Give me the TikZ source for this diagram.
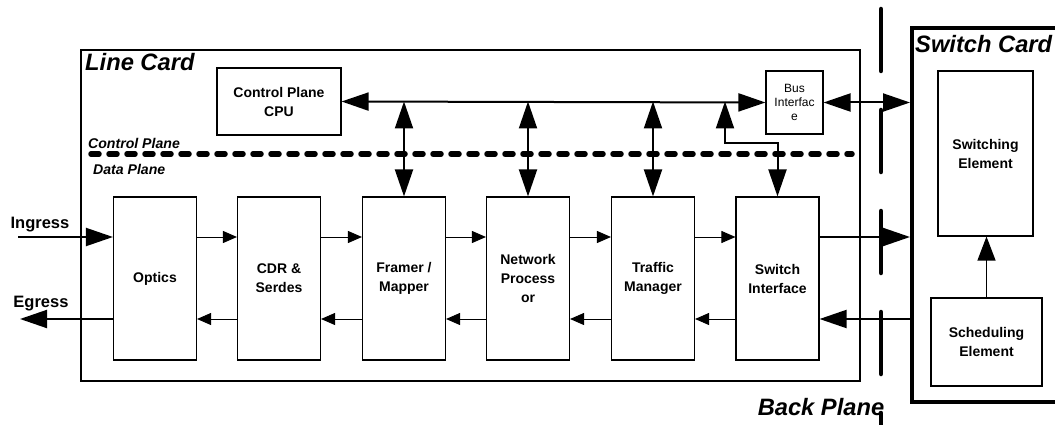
\documentclass[tikz,border=0pt]{standalone}
\usepackage{fontspec}
\setmainfont{Liberation Sans}
\usetikzlibrary{arrows.meta}

\begin{document}
\begin{tikzpicture}[x=1pt,y=-1pt,
  box/.style={draw,line width=1.1pt,inner sep=0pt,align=center,
    font=\fontsize{14}{19}\selectfont\bfseries},
  datablk/.style={box,minimum width=83pt,minimum height=163pt},
  title/.style={font=\fontsize{23.7}{26}\selectfont\bfseries\itshape,inner sep=0pt},
  planelbl/.style={font=\fontsize{14.1}{16}\selectfont\bfseries\itshape,inner sep=0pt},
  iolbl/.style={font=\fontsize{16.5}{19}\selectfont\bfseries,inner sep=0pt},
  bigarrow/.style={line width=2pt,-{Triangle[length=27pt,width=18pt]}},
  bigboth/.style={line width=2pt,{Triangle[length=27pt,width=18pt]}-{Triangle[length=27pt,width=18pt]}},
  smallarrow/.style={line width=0.9pt,-{Triangle[length=14pt,width=12pt]}},
]
\useasboundingbox (0,0) rectangle (1055,425);
\clip (0,0) rectangle (1055,425);

% Line card outline and title
\draw[line width=2pt] (81,50) rectangle (860,381);
\node[title,anchor=west] (lctitle) at (85,62) {Line Card};

% Control-plane blocks
\node[box,minimum width=124pt,minimum height=67pt] (cpu) at (279,101.5) {Control Plane\\CPU};
\node[box,minimum width=57pt,minimum height=63pt,
  font=\fontsize{12}{14}\selectfont] (bi) at (794.5,102.5) {Bus\\Interfac\\e};

% Plane separator
\draw[line width=5.5pt,dash pattern=on 8pt off 10pt,line cap=round] (91,154) -- (852,154);
\node[planelbl,anchor=west] (cplbl) at (88,143) {Control Plane};
\node[planelbl,anchor=west] (dplbl) at (93,169) {Data Plane};

% Data-path blocks
\node[datablk] (opt) at (155,278.5) {Optics};
\node[datablk] (cdr) at (279,278.5) {CDR \&\\Serdes};
\node[datablk] (fm)  at (404,278.5) {Framer /\\Mapper};
\node[datablk] (np)  at (528,278.5) {Network\\Process\\or};
\node[datablk] (tm)  at (653,278.5) {Traffic\\Manager};
\node[datablk] (si)  at (777.5,278.5) {Switch\\Interface};

\coordinate (fwd) at (0,237);
\coordinate (bwd) at (0,319);

% Control bus
\draw[bigboth] (cpu.east) -- (bi.west);
\draw[bigboth] (fm.north |- cpu.east) -- (fm.north);
\draw[bigboth] (np.north |- cpu.east) -- (np.north);
\draw[bigboth] (tm.north |- cpu.east) -- (tm.north);
\coordinate (sitap) at (725,101.5);
\draw[bigboth] (sitap) -- (725,143) -| (si.north);

% Switch card
\draw[line width=4.5pt] (1060,28) -- (912,28) -- (912,402) -- (1060,402);
\node[title,anchor=west] (sctitle) at (915,44) {Switch Card};
\coordinate (scedge) at (910,0);
\node[box,minimum width=95pt,minimum height=165pt] (swe) at (985.5,153.5) {Switching\\Element};
\node[box,minimum width=111pt,minimum height=88pt] (sch) at (986.5,342) {Scheduling\\Element};
\draw[line width=1.2pt,-{Triangle[length=24pt,width=18pt]}] (sch.north) -- (sch.north |- swe.south);

\draw[bigboth] (bi.east) -- (scedge |- bi.east);

% Forward data path
\coordinate (ingin) at (18,237);
\node[iolbl] (inglbl) at (40,225) {Ingress};
\draw[bigarrow] (ingin) -- (opt.west |- fwd);
\draw[smallarrow] (opt.east |- fwd) -- (cdr.west |- fwd);
\draw[smallarrow] (cdr.east |- fwd) -- (fm.west |- fwd);
\draw[smallarrow] (fm.east |- fwd) -- (np.west |- fwd);
\draw[smallarrow] (np.east |- fwd) -- (tm.west |- fwd);
\draw[smallarrow] (tm.east |- fwd) -- (si.west |- fwd);
\draw[bigarrow] (si.east |- fwd) -- (scedge |- fwd);

% Return data path
\coordinate (egout) at (20,319);
\node[iolbl] (eglbl) at (41,304) {Egress};
\draw[bigarrow] (scedge |- bwd) -- (si.east |- bwd);
\draw[smallarrow] (si.west |- bwd) -- (tm.east |- bwd);
\draw[smallarrow] (tm.west |- bwd) -- (np.east |- bwd);
\draw[smallarrow] (np.west |- bwd) -- (fm.east |- bwd);
\draw[smallarrow] (fm.west |- bwd) -- (cdr.east |- bwd);
\draw[smallarrow] (cdr.west |- bwd) -- (opt.east |- bwd);
\draw[bigarrow] (opt.west |- bwd) -- (egout);

% Back plane
\coordinate (bptop) at (881,9);
\coordinate (bpbot) at (881,440);
\draw[line width=4.5pt,line cap=round,dash pattern=on 62pt off 39pt] (bptop) -- (bpbot);
\node[title] (bplbl) at (821,407) {Back Plane};
\end{tikzpicture}
\end{document}
